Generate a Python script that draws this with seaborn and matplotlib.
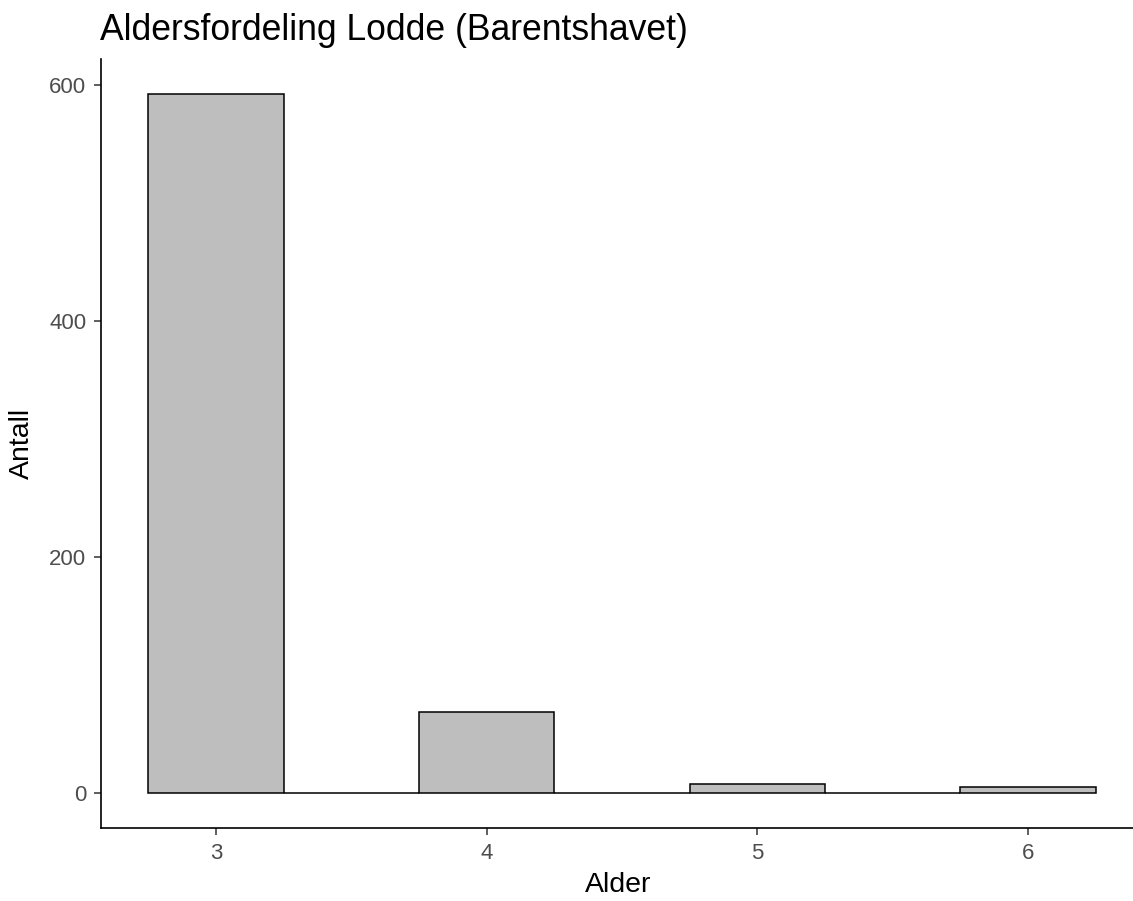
import matplotlib
matplotlib.use("Agg")
import matplotlib.pyplot as plt
import seaborn as sns
import numpy as np

ages = [3, 4, 5, 6]
counts = [592, 69, 8, 5]
bin_edges = [2.75, 3.25, 3.75, 4.25, 4.75, 5.25, 5.75, 6.25]
y_ticks = [0, 200, 400, 600]

sns.set_style("ticks")
plt.rcParams['font.family'] = ['Liberation Sans', 'DejaVu Sans']

fig = plt.figure(figsize=(11.33, 9.01), dpi=100)
ax = fig.add_axes([101 / 1133, 73 / 901, 1042 / 1133, 768.5 / 901])

sns.histplot(x=ages, weights=counts, bins=bin_edges, color="#BEBEBE",
             edgecolor="black", linewidth=1.1, alpha=1, ax=ax)

ax.set_xlim(2.575, 6.425)
ax.set_ylim(-29.6, 621.6)
ax.set_xticks(ages)
ax.set_yticks(y_ticks)
ax.tick_params(axis="both", labelsize=16, labelcolor="#4D4D4D", color="#333333",
               length=5, width=1.1, pad=5.5)
for s in ["top", "right"]:
    ax.spines[s].set_visible(False)
for s in ["left", "bottom"]:
    ax.spines[s].set_color("black")
    ax.spines[s].set_linewidth(1.2)

ax.set_xlabel("Alder", fontsize=20.5, color="black", va="center")
ax.xaxis.set_label_coords(618 / 1133, 1 - 885 / 901, transform=fig.transFigure)
ax.set_ylabel("Antall", fontsize=20.5, color="black", va="center")
ax.yaxis.set_label_coords(22 / 1133, 1 - 443 / 901, transform=fig.transFigure)
fig.text(100 / 1133, 1 - 40 / 901, "Aldersfordeling Lodde (Barentshavet)",
         fontsize=25.6, ha="left", va="baseline", color="black")

fig.savefig("out.png", dpi=100)
